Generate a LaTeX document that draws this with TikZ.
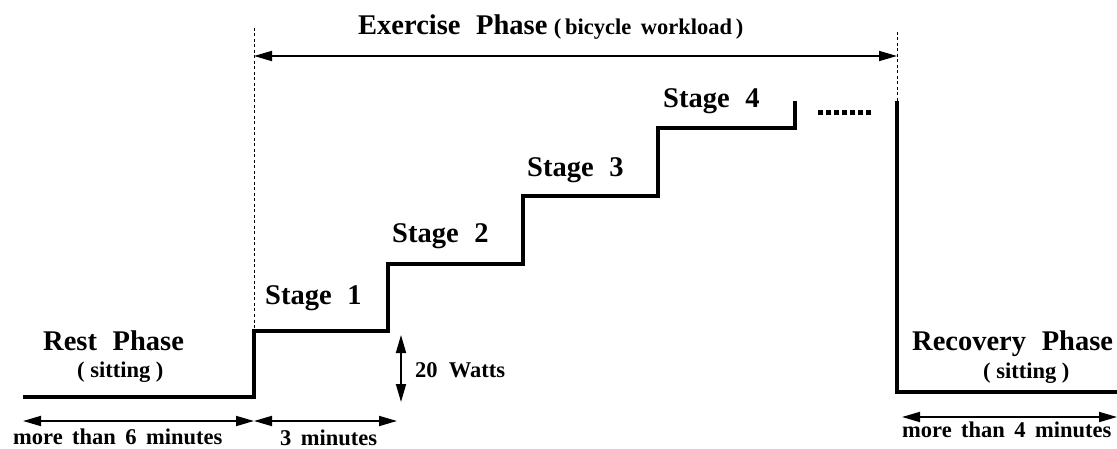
\documentclass[tikz,border=0pt]{standalone}
\usepackage{fontspec}
\setmainfont{Liberation Serif}
\usetikzlibrary{arrows.meta}
\newcommand\wgap{\hspace{0.55em}}
\newcommand\sgap{\hspace{0.42em}}
\tikzset{
  big/.style={font=\fontsize{28.5}{30}\selectfont\bfseries, inner sep=0pt, anchor=base west},
  small/.style={font=\fontsize{22.5}{24}\selectfont\bfseries, inner sep=0pt, anchor=base west},
  stair/.style={line width=4pt, line join=miter},
  dim/.style={line width=1.8pt, {Triangle[length=18pt,width=10pt]}-{Triangle[length=18pt,width=10pt]}},
  guide/.style={line width=0.9pt, dash pattern=on 3pt off 2.5pt},
}
\begin{document}
\begin{tikzpicture}[x=1pt,y=-1pt]
\useasboundingbox (0,0) rectangle (1117,449);
% staircase
\coordinate (s0) at (23,397);
\coordinate (s1) at (254,397);
\coordinate (s2) at (254,331);
\coordinate (s3) at (388,331);
\coordinate (s4) at (388,264);
\coordinate (s5) at (523,264);
\coordinate (s6) at (523,196);
\coordinate (s7) at (658,196);
\coordinate (s8) at (658,128);
\coordinate (s9) at (795,128);
\coordinate (s10) at (795,101);
\draw[stair] (s0) -- (s1) -- (s2) -- (s3) -- (s4) -- (s5) -- (s6) -- (s7) -- (s8) -- (s9) -- (s10);
\coordinate (r0) at (897,101);
\coordinate (r1) at (897,392);
\coordinate (r2) at (1117,392);
\draw[stair] (r0) -- (r1) -- (r2);
% dots
\coordinate (d0) at (818,113);
\coordinate (d1) at (874,113);
\draw[line width=5pt, dash pattern=on 4.5pt off 3.5pt] (d0) -- (d1);
% guides
\coordinate (g0) at (254,28);
\coordinate (g1) at (897,32);
\coordinate (g2) at (897,101);
\draw[guide] (g0) -- (s2);
\draw[guide] (g1) -- (g2);
% top arrow
\coordinate (ta) at (254,56);
\coordinate (tb) at (897,56);
\draw[dim] (ta) -- (tb);
\node[big] (ex) at (358,35) {Exercise\wgap Phase};
\node[small] (bw) at (ex.base east) [xshift=6pt] {(\,bicycle\sgap workload\,)};
% stage labels
\node[big] (st1) at (265,305) {Stage\wgap 1};
\node[big] (st2) at (392,243) {Stage\wgap 2};
\node[big] (st3) at (527,177) {Stage\wgap 3};
\node[big] (st4) at (663,108) {Stage\wgap 4};
% rest phase
\node[big] (rest) at (43,350) {Rest\wgap Phase};
\node[small] (rs) at (77,377) {(\hspace{0.25em}sitting\hspace{0.25em})};
\node[big] (rec) at (912,350) {Recovery\wgap Phase};
\node[small] (rcs) at (983,378) {(\hspace{0.25em}sitting\hspace{0.25em})};
% 20 watts
\coordinate (wa) at (401,335);
\coordinate (wb) at (401,402);
\draw[dim] (wa) -- (wb);
\node[small] (watt) at (415,377) {20\hspace{0.5em}Watts};
% bottom arrows
\coordinate (b0) at (23,421);
\coordinate (b1) at (254,421);
\coordinate (b2) at (397,421);
\draw[dim] (b0) -- (b1);
\draw[dim] (b1) -- (b2);
\node[small] (m6) at (13,444) {more\sgap than\sgap 6\sgap minutes};
\node[small] (m3) at (280,445) {3\sgap minutes};
\coordinate (c0) at (902,417);
\coordinate (c1) at (1117,417);
\draw[dim] (c0) -- (c1);
\node[small] (m4) at (902,437) {more\sgap than\sgap 4\sgap minutes};
\end{tikzpicture}
\end{document}
